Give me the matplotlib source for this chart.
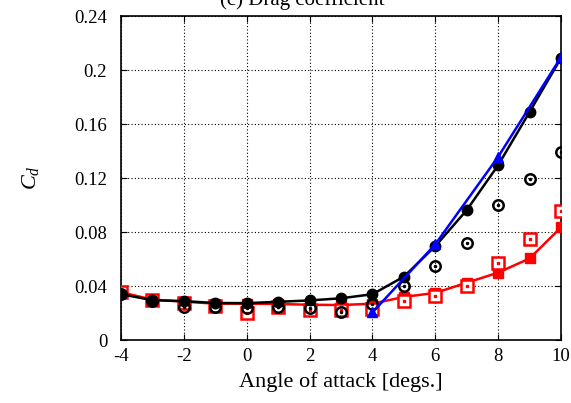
import matplotlib
matplotlib.use("Agg")
import matplotlib.pyplot as plt

plt.rcParams.update({
    "font.family": ["Liberation Serif", "DejaVu Serif"],
    "mathtext.fontset": "custom",
    "mathtext.it": "Liberation Serif:italic",
    "mathtext.rm": "Liberation Serif",
    "axes.unicode_minus": False,
})

# angle of attack [deg]
AOA = [-4, -3, -2, -1, 0, 1, 2, 3, 4, 5, 6, 7, 8, 9, 10]
# black filled circles with line
CD_BLACK = [0.0340, 0.0296, 0.0289, 0.0275, 0.0274, 0.0284, 0.0294, 0.0310, 0.0340,
            0.0470, 0.0696, 0.0963, 0.1296, 0.1690, 0.2090]
# black open circles (no line)
CD_BLACK_OPEN = [0.0340, 0.0290, 0.0247, 0.0247, 0.0235, 0.0247, 0.0235, 0.0210, 0.0270,
                 0.0400, 0.0550, 0.0716, 0.1000, 0.1190, 0.1390]
# red filled squares with line
CD_RED = [0.0355, 0.0300, 0.0285, 0.0270, 0.0270, 0.0268, 0.0262, 0.0260, 0.0270,
          0.0320, 0.0350, 0.0425, 0.0500, 0.0605, 0.0835]
# red open squares (no line)
CD_RED_OPEN = [0.0355, 0.0300, 0.0275, 0.0250, 0.0200, 0.0245, 0.0220, 0.0225, 0.0227,
               0.0290, 0.0330, 0.0400, 0.0570, 0.0746, 0.0960]
# blue triangles with line
AOA_BLUE = [4, 6, 8, 10]
CD_BLUE = [0.0205, 0.0710, 0.1358, 0.2096]

fig = plt.figure(figsize=(5.71, 4.03), dpi=100)
ax = fig.add_axes([0.212, 0.156, 0.7705, 0.804])

ax.plot(AOA, CD_RED, color="red", lw=1.8, marker="s", ms=7, mfc="red", mec="red", zorder=3)
ax.plot(AOA, CD_RED_OPEN, ls="none", marker="s", ms=8, mfc="white", mec="red", mew=1.8, zorder=4)
ax.plot(AOA, CD_RED_OPEN, ls="none", marker="s", ms=1.5, mfc="red", mec="red", zorder=5)
ax.plot(AOA, CD_BLACK, color="black", lw=1.8, marker="o", ms=7.5, mfc="black", mec="black", zorder=6)
ax.plot(AOA, CD_BLACK_OPEN, ls="none", marker="o", ms=7.5, mfc="none", mec="black", mew=1.8, zorder=7)
ax.plot(AOA, CD_BLACK_OPEN, ls="none", marker="o", ms=1.5, mfc="black", mec="black", zorder=7)
ax.plot(AOA_BLUE, CD_BLUE, color="blue", lw=1.8, marker="^", ms=7, mfc="blue", mec="blue", zorder=8)

ax.set_xlim(-4, 10)
ax.set_ylim(0, 0.24)
ax.set_xticks(range(-4, 11, 2))
ax.set_yticks([0, 0.04, 0.08, 0.12, 0.16, 0.2, 0.24])
ax.set_yticklabels(["0", "0.04", "0.08", "0.12", "0.16", "0.2", "0.24"])
ax.tick_params(direction="in", labelsize=13.5, length=4, top=True, right=True)
ax.tick_params(axis="x", pad=6)
ax.tick_params(axis="y", pad=10)
ax.grid(True, color="black", ls=(0, (1, 2)), lw=0.8)
ax.set_axisbelow(True)
for s in ax.spines.values():
    s.set_linewidth(1.2)

ax.set_xlabel("Angle of attack [degs.]", fontsize=16, labelpad=5)
ax.set_ylabel(r"$C_d$", fontsize=16, labelpad=24)

# title is mostly cropped in the reference
fig.text(0.53, 0.988, "(c) Drag coefficient", ha="center", va="baseline", fontsize=15)

fig.savefig("out.png", dpi=100)
